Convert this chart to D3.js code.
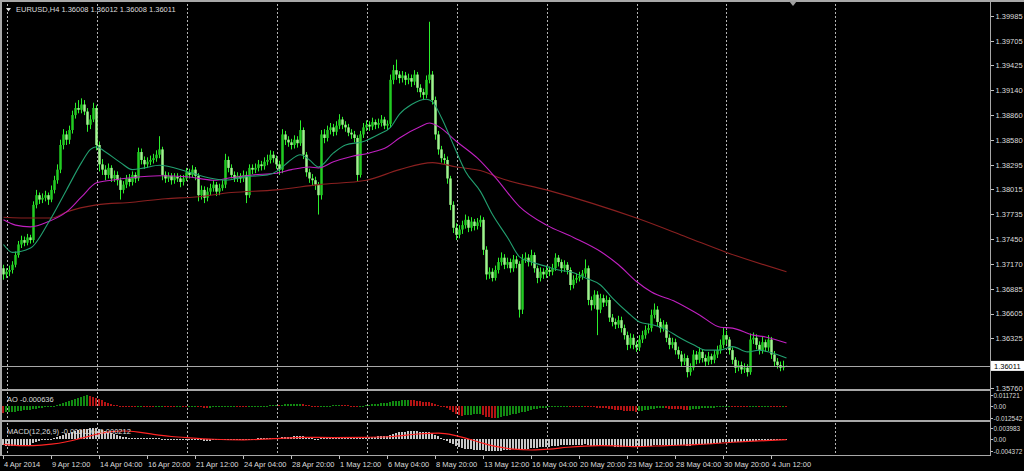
<!DOCTYPE html>
<html><head><meta charset="utf-8">
<script src="https://cdn.jsdelivr.net/npm/d3@7"></script>
<style>
html,body{margin:0;padding:0;background:#000;overflow:hidden}
svg{display:block}
text{font-family:"Liberation Sans",Arial,sans-serif;font-size:7.5px;fill:#dcdcdc}
</style></head><body>
<svg id="c" width="1024" height="471"></svg>
<script>
// ---------------- DATA (EURUSD, H4) ----------------
const symbolTitle = "EURUSD,H4  1.36008 1.36012 1.36008 1.36011";
const firstOpen = 1.3712;
const closes = [
1.3705,1.3708,1.3710,1.3716,1.3727,1.3739,1.3744,1.3741,1.3747,1.3744,
1.3784,1.3795,1.3790,1.3792,1.3795,1.3790,1.3801,1.3812,1.3824,1.3852,
1.3864,1.3858,1.3869,1.3886,1.3894,1.3892,1.3898,1.3890,1.3875,1.3881,
1.3894,1.3852,1.3830,1.3824,1.3818,1.3826,1.3814,1.3818,1.3812,1.3801,
1.3807,1.3814,1.3810,1.3818,1.3814,1.3844,1.3835,1.3830,1.3833,1.3835,
1.3837,1.3841,1.3847,1.3818,1.3814,1.3817,1.3812,1.3816,1.3814,1.3810,
1.3814,1.3821,1.3818,1.3824,1.3817,1.3795,1.3801,1.3792,1.3799,1.3803,
1.3807,1.3799,1.3803,1.3807,1.3835,1.3826,1.3818,1.3814,1.3817,1.3814,
1.3818,1.3795,1.3826,1.3824,1.3826,1.3830,1.3828,1.3833,1.3835,1.3841,
1.3837,1.3830,1.3824,1.3864,1.3858,1.3855,1.3852,1.3858,1.3854,1.3869,
1.3841,1.3821,1.3814,1.3812,1.3807,1.3795,1.3864,1.3860,1.3869,1.3872,
1.3867,1.3874,1.3881,1.3875,1.3872,1.3866,1.3864,1.3860,1.3818,1.3864,
1.3872,1.3875,1.3873,1.3878,1.3875,1.3877,1.3881,1.3874,1.3876,1.3926,
1.3937,1.3932,1.3928,1.3931,1.3926,1.3928,1.3924,1.3932,1.3917,1.3912,
1.3909,1.3926,1.3932,1.3903,1.3864,1.3847,1.3837,1.3835,1.3814,1.3784,
1.3758,1.3750,1.3756,1.3761,1.3767,1.3758,1.3765,1.3760,1.3764,1.3767,
1.3733,1.3705,1.3708,1.3701,1.3710,1.3719,1.3724,1.3716,1.3719,1.3712,
1.3722,1.3717,1.3665,1.3722,1.3724,1.3719,1.3727,1.3712,1.3701,1.3708,
1.3705,1.3710,1.3708,1.3712,1.3724,1.3719,1.3712,1.3716,1.3710,1.3693,
1.3699,1.3701,1.3703,1.3706,1.3712,1.3676,1.3670,1.3682,1.3665,1.3678,
1.3673,1.3676,1.3656,1.3651,1.3648,1.3653,1.3644,1.3636,1.3625,1.3633,
1.3625,1.3622,1.3631,1.3636,1.3642,1.3644,1.3659,1.3665,1.3651,1.3644,
1.3648,1.3633,1.3625,1.3628,1.3619,1.3614,1.3606,1.3610,1.3594,1.3599,
1.3614,1.3608,1.3617,1.3610,1.3606,1.3612,1.3608,1.3614,1.3619,1.3625,
1.3636,1.3631,1.3619,1.3608,1.3599,1.3602,1.3597,1.3599,1.3594,1.3631,
1.3633,1.3625,1.3619,1.3628,1.3622,1.3631,1.3614,1.3606,1.3602,1.3599,
1.36008,1.36011];
const highs = [
1.3716,1.3712,1.3715,1.3720,1.3731,1.3743,1.3749,1.3748,1.3751,1.3750,
1.3788,1.3801,1.3798,1.3797,1.3800,1.3798,1.3806,1.3817,1.3830,1.3858,
1.3870,1.3868,1.3874,1.3891,1.3900,1.3903,1.3905,1.3903,1.3894,1.3886,
1.3900,1.3897,1.3856,1.3836,1.3829,1.3831,1.3829,1.3823,1.3822,1.3815,
1.3811,1.3818,1.3819,1.3822,1.3821,1.3849,1.3848,1.3839,1.3838,1.3840,
1.3842,1.3846,1.3862,1.3850,1.3822,1.3821,1.3820,1.3820,1.3820,1.3818,
1.3818,1.3826,1.3825,1.3829,1.3827,1.3820,1.3806,1.3805,1.3804,1.3808,
1.3812,1.3810,1.3808,1.3812,1.3842,1.3839,1.3830,1.3822,1.3821,1.3820,
1.3823,1.3822,1.3830,1.3830,1.3831,1.3835,1.3834,1.3838,1.3841,1.3846,
1.3845,1.3840,1.3834,1.3870,1.3868,1.3862,1.3859,1.3863,1.3862,1.3880,
1.3872,1.3844,1.3825,1.3819,1.3816,1.3810,1.3869,1.3870,1.3874,1.3877,
1.3876,1.3879,1.3887,1.3884,1.3879,1.3876,1.3870,1.3868,1.3863,1.3868,
1.3877,1.3880,1.3879,1.3883,1.3881,1.3882,1.3886,1.3884,1.3880,1.3932,
1.3943,1.3949,1.3936,1.3936,1.3935,1.3933,1.3932,1.3937,1.3935,1.3921,
1.3916,1.3931,1.3992,1.3936,1.3907,1.3868,1.3851,1.3842,1.3839,1.3817,
1.3788,1.3763,1.3761,1.3766,1.3773,1.3771,1.3770,1.3768,1.3769,1.3772,
1.3770,1.3737,1.3713,1.3712,1.3715,1.3724,1.3730,1.3728,1.3724,1.3723,
1.3727,1.3726,1.3720,1.3728,1.3730,1.3728,1.3733,1.3730,1.3715,1.3713,
1.3712,1.3715,1.3714,1.3717,1.3729,1.3727,1.3722,1.3721,1.3719,1.3713,
1.3704,1.3706,1.3708,1.3710,1.3722,1.3715,1.3680,1.3687,1.3686,1.3683,
1.3682,1.3681,1.3679,1.3660,1.3655,1.3658,1.3657,1.3648,1.3640,1.3638,
1.3637,1.3629,1.3636,1.3641,1.3647,1.3649,1.3665,1.3672,1.3669,1.3655,
1.3653,1.3651,1.3637,1.3633,1.3632,1.3623,1.3618,1.3615,1.3613,1.3604,
1.3619,1.3618,1.3622,1.3620,1.3614,1.3617,1.3615,1.3619,1.3624,1.3631,
1.3645,1.3641,1.3634,1.3622,1.3611,1.3607,1.3606,1.3604,1.3603,1.3638,
1.3639,1.3637,1.3629,1.3634,1.3631,1.3636,1.3634,1.3618,1.3610,1.3606,
1.3607,1.36012];
const lows = [
1.3699,1.3701,1.3703,1.3706,1.3713,1.3724,1.3735,1.3737,1.3738,1.3740,
1.3741,1.3780,1.3785,1.3786,1.3788,1.3784,1.3787,1.3797,1.3808,1.3820,
1.3847,1.3852,1.3853,1.3865,1.3882,1.3888,1.3888,1.3886,1.3867,1.3870,
1.3878,1.3846,1.3822,1.3818,1.3812,1.3814,1.3810,1.3810,1.3806,1.3790,
1.3797,1.3803,1.3805,1.3806,1.3809,1.3811,1.3830,1.3825,1.3826,1.3829,
1.3831,1.3833,1.3837,1.3812,1.3809,1.3810,1.3807,1.3808,1.3810,1.3804,
1.3806,1.3811,1.3814,1.3815,1.3812,1.3788,1.3790,1.3786,1.3788,1.3795,
1.3799,1.3794,1.3795,1.3800,1.3803,1.3821,1.3814,1.3810,1.3810,1.3809,
1.3810,1.3786,1.3792,1.3819,1.3820,1.3822,1.3823,1.3824,1.3829,1.3831,
1.3832,1.3825,1.3818,1.3820,1.3852,1.3850,1.3847,1.3848,1.3849,1.3851,
1.3836,1.3816,1.3809,1.3806,1.3801,1.3773,1.3790,1.3854,1.3856,1.3864,
1.3862,1.3863,1.3870,1.3870,1.3867,1.3862,1.3859,1.3855,1.3810,1.3815,
1.3860,1.3868,1.3868,1.3869,1.3870,1.3871,1.3873,1.3870,1.3869,1.3872,
1.3921,1.3926,1.3922,1.3923,1.3920,1.3921,1.3918,1.3920,1.3912,1.3906,
1.3903,1.3905,1.3922,1.3898,1.3858,1.3841,1.3832,1.3830,1.3808,1.3778,
1.3752,1.3744,1.3746,1.3751,1.3757,1.3753,1.3754,1.3755,1.3756,1.3759,
1.3727,1.3699,1.3700,1.3697,1.3698,1.3706,1.3715,1.3711,1.3712,1.3707,
1.3708,1.3712,1.3656,1.3660,1.3718,1.3714,1.3715,1.3707,1.3695,1.3697,
1.3700,1.3701,1.3703,1.3704,1.3709,1.3714,1.3707,1.3708,1.3705,1.3687,
1.3689,1.3695,1.3697,1.3699,1.3702,1.3670,1.3664,1.3666,1.3636,1.3661,
1.3668,1.3669,1.3651,1.3646,1.3643,1.3644,1.3639,1.3631,1.3619,1.3621,
1.3620,1.3617,1.3618,1.3627,1.3632,1.3638,1.3640,1.3655,1.3646,1.3639,
1.3640,1.3628,1.3620,1.3621,1.3614,1.3609,1.3600,1.3602,1.3588,1.3590,
1.3596,1.3603,1.3604,1.3605,1.3601,1.3602,1.3603,1.3604,1.3610,1.3615,
1.3621,1.3626,1.3614,1.3603,1.3593,1.3595,1.3592,1.3593,1.3589,1.3591,
1.3626,1.3620,1.3614,1.3615,1.3617,1.3618,1.3609,1.3601,1.3598,1.3595,
1.3596,1.36008];
const bidPrice = 1.36011;

// moving averages: [bar index, price]
const maFast = [[0,1.3739],[3,1.3730],[9,1.3735],[15,1.3764],[21,1.3801],[26,1.3832],[29,1.3847],[31,1.3850],[34,1.3844],[39,1.3832],[43,1.3824],[47,1.3826],[52,1.3829],[61,1.3822],[68,1.3815],[74,1.3812],[81,1.3816],[88,1.3818],[92,1.3824],[95,1.3833],[99,1.3841],[102,1.3835],[105,1.3827],[110,1.3843],[114,1.3852],[120,1.3856],[125,1.3864],[129,1.3872],[132,1.3887],[136,1.3898],[141,1.3904],[143,1.3901],[146,1.3883],[150,1.3852],[154,1.3822],[159,1.3799],[163,1.3773],[168,1.3747],[172,1.3725],[176,1.3719],[181,1.3714],[185,1.3710],[190,1.3707],[194,1.3701],[199,1.3693],[203,1.3678],[208,1.3662],[212,1.3651],[216,1.3648],[221,1.3642],[225,1.3634],[230,1.3625],[234,1.3619],[239,1.3619],[243,1.3623],[248,1.3617],[252,1.3619],[256,1.3616],[261,1.3610]];
const maMid = [[0,1.3767],[4,1.3761],[9,1.3759],[15,1.3765],[21,1.3776],[26,1.3793],[31,1.3809],[36,1.3812],[43,1.3815],[52,1.3817],[61,1.3816],[70,1.3812],[76,1.3815],[83,1.3818],[91,1.3820],[96,1.3824],[102,1.3827],[105,1.3826],[110,1.3833],[116,1.3839],[122,1.3843],[128,1.3850],[132,1.3860],[139,1.3873],[142,1.3877],[145,1.3873],[151,1.3856],[158,1.3837],[164,1.3815],[172,1.3782],[181,1.3761],[190,1.3747],[199,1.3731],[205,1.3716],[211,1.3697],[216,1.3685],[224,1.3674],[232,1.3659],[239,1.3645],[243,1.3644],[250,1.3636],[254,1.3634],[261,1.3627]];
const maSlow = [[0,1.3770],[10,1.3769],[16,1.3769],[21,1.3776],[31,1.3784],[43,1.3787],[54,1.3791],[64,1.3793],[76,1.3798],[91,1.3801],[105,1.3807],[121,1.3812],[132,1.3824],[143,1.3832],[151,1.3827],[160,1.3822],[165,1.3815],[181,1.3801],[196,1.3786],[211,1.3769],[228,1.3747],[241,1.3730],[261,1.3708]];

// Awesome Oscillator, in units of 0.0001
const aoPips = [
-70,-66,-64,-62,-58,-54,-50,-46,-42,-38,
-32,-26,-22,-18,-13,-8,-2,6,14,24,
34,44,54,64,74,84,94,104,117,108,
100,90,78,64,48,32,20,12,8,4,
0,-3,-5,-6,-6,-4,-3,-4,-5,-8,
-10,-9,-7,-6,-8,-10,-12,-12,-11,-10,
-12,-14,-13,-11,-10,-12,-14,-15,-16,-15,
-13,-12,-11,-10,-7,-5,-4,-3,-3,-4,
-5,-7,-6,-4,-2,0,2,4,6,9,
12,13,12,14,17,19,21,22,23,24,
20,14,8,3,-2,-6,-4,-1,2,5,
7,9,10,9,8,7,6,5,3,4,
6,9,13,17,21,25,29,33,37,44,
50,55,59,62,64,65,63,60,56,52,
48,44,40,33,24,14,4,-8,-22,-40,
-60,-78,-92,-100,-96,-92,-90,-88,-86,-85,
-95,-110,-118,-124,-125,-121,-115,-108,-101,-94,
-86,-78,-74,-66,-58,-50,-42,-35,-30,-25,
-20,-15,-11,-8,-5,-3,-2,-1,0,-2,
-3,-4,-4,-3,-3,-6,-10,-13,-17,-20,
-22,-25,-29,-33,-37,-40,-44,-48,-52,-54,
-56,-58,-55,-50,-45,-40,-34,-28,-25,-24,
-23,-25,-28,-30,-32,-33,-35,-36,-38,-36,
-32,-29,-26,-24,-22,-20,-18,-15,-12,-9,
-5,-3,-2,-4,-6,-8,-10,-11,-12,-10,
-8,-7,-7,-6,-5,-4,-5,-6,-7,-7,
-6,-6.36];
// MACD(12,26,9) main, in units of 0.0001
const macdPips = [
-22,-24,-26,-27,-27,-26,-25,-24,-22,-21,
-16,-11,-8,-5,-3,-1,1,3,6,10,
14,17,20,24,28,31,34,36,38,39,
40,39,35,32,28,25,21,18,14,10,
8,6,4,3,2,3,3,2,2,2,
2,2,3,1,0,-1,-2,-2,-3,-3,
-3,-3,-2,-2,-2,-4,-5,-6,-6,-6,
-5,-5,-4,-4,-1,0,0,0,0,0,
0,-2,-1,0,1,2,2,3,4,5,
5,5,4,6,7,8,8,9,9,10,
9,7,5,3,1,-1,2,3,4,5,
6,7,8,8,8,8,7,7,4,5,
6,7,7,8,8,9,9,9,9,14,
18,21,24,26,27,28,28,29,28,27,
25,25,25,22,16,10,4,-1,-6,-13,
-20,-26,-30,-33,-35,-37,-38,-39,-40,-40,
-41,-42,-43,-43.7,-43.5,-43,-42,-41,-40,-39,
-38,-37,-39,-37,-36,-35,-34,-33,-32,-31,
-30,-29,-28,-27,-25,-24,-23,-22,-22,-23,
-23,-23,-22,-21,-20,-22,-24,-24,-25,-25,
-25,-25,-26,-27,-28,-28,-29,-30,-31,-31,
-31,-31,-30,-29,-27,-26,-24,-22,-21,-21,
-21,-21,-22,-22,-22,-23,-23,-23,-24,-24,
-22,-21,-20,-19,-19,-18,-17,-16,-15,-13,
-11,-10,-10,-10,-11,-11,-11,-11,-12,-9,
-7,-6,-5,-4,-4,-3,-3,-3,-2,-2,
-1,-1.06];
// MACD signal line: [bar index, value in 0.0001]
const signalPips = [[0,-20],[5,-24],[10,-24],[16,-19],[21,-10],[26,3],[31,17],[36,27],[40,29],[45,25],[50,17],[56,9],[62,4],[70,-1],[80,-3],[90,1],[100,6],[110,5],[120,6],[130,9],[138,18],[145,21],[150,14],[155,0],[160,-16],[165,-29],[170,-37],[176,-40],[182,-37],[188,-30],[199,-24],[205,-25],[210,-28],[221,-24],[232,-20],[243,-12],[254,-6],[261,-2.12]];

const priceTicks = [1.39985,1.39705,1.39425,1.39140,1.38860,1.38580,1.38295,1.38015,1.37735,1.37450,1.37170,1.36885,1.36605,1.36325,1.35760];
const aoTicks = [0.011721, 0, -0.012542];
const aoTickLabels = ["0.011721","0.00","-0.012542"];
const macdTicks = [0.003983, 0, -0.004372];
const macdTickLabels = ["0.003983","0.00","-0.004372"];
const timeTickIdx = [0,16,32,48,64,80,96,112,128,144,160,176,192,208,224,240,256];
const timeTickLabels = ["4 Apr 2014","9 Apr 12:00","14 Apr 04:00","16 Apr 20:00","21 Apr 12:00","24 Apr 04:00","28 Apr 20:00","1 May 12:00","6 May 04:00","8 May 20:00","13 May 12:00","16 May 04:00","20 May 20:00","23 May 12:00","28 May 04:00","30 May 20:00","4 Jun 12:00"];
const gridIdx = [1,31,61,91,121,151,181,211,241,277];
const aoLabel = "AO -0.000636";
const macdLabel = "MACD(12,26,9) -0.000106 -0.000212";

// ---------------- DRAW ----------------
const svg = d3.select("#c");
const R = 990; // right edge of plotting area
const main = {top:3, bottom:389};
const aoWin = {top:391, bottom:420};
const macdWin = {top:422, bottom:455};

const x = d3.scaleLinear().domain([-1, 329]).range([0.5, 990.5]);
const yMain = d3.scaleLinear().domain([1.35737, 1.40133]).range([390, 3]);
const yAO = d3.scaleLinear().domain([-0.012542, 0.011721]).range([418, 395]);
const yMACD = d3.scaleLinear().domain([-0.004372, 0.003983]).range([451, 428]);

svg.append("rect").attr("width",1024).attr("height",471).attr("fill","#000");

const defs = svg.append("defs");
defs.append("clipPath").attr("id","clipMain").append("rect").attr("x",2).attr("y",main.top).attr("width",R-2).attr("height",main.bottom-main.top);

// grid (vertical dashed)
const grid = svg.append("g").attr("stroke","#b4b4b4").attr("stroke-dasharray","2,2").attr("shape-rendering","crispEdges");
[main, aoWin, macdWin].forEach(w=>{
  grid.selectAll(null).data(gridIdx).join("line")
    .attr("x1",d=>Math.round(x(d))+0.5).attr("x2",d=>Math.round(x(d))+0.5)
    .attr("y1",w.top+1).attr("y2",w.bottom);
});

// candles
const bars = closes.map((c,i)=>({i, o: i===0?firstOpen:closes[i-1], c, h: highs[i], l: lows[i]}));
const gc = svg.append("g").attr("clip-path","url(#clipMain)");
gc.selectAll("line.w").data(bars).join("line").attr("class","w")
  .attr("x1",d=>x(d.i)).attr("x2",d=>x(d.i))
  .attr("y1",d=>yMain(d.h)).attr("y2",d=>yMain(d.l))
  .attr("stroke","#2cf02c").attr("stroke-width",1);
gc.selectAll("rect.b").data(bars).join("rect").attr("class","b")
  .attr("x",d=>x(d.i)-1.25).attr("width",2.5)
  .attr("y",d=>yMain(Math.max(d.o,d.c)))
  .attr("height",d=>Math.max(1, yMain(Math.min(d.o,d.c))-yMain(Math.max(d.o,d.c))))
  .attr("fill",d=>d.c>=d.o?"#22cc22":"#9ef58e");

// moving averages
const maLine = d3.line().x(d=>x(d[0])).y(d=>yMain(d[1])).curve(d3.curveMonotoneX);
const gm = svg.append("g").attr("clip-path","url(#clipMain)").attr("fill","none").attr("stroke-width",1.1);
gm.append("path").datum(maSlow).attr("d",maLine).attr("stroke","#8a2020");
gm.append("path").datum(maMid).attr("d",maLine).attr("stroke","#c020c0");
gm.append("path").datum(maFast).attr("d",maLine).attr("stroke","#22a070");

// bid line
svg.append("line").attr("x1",2).attr("x2",R).attr("y1",Math.round(yMain(bidPrice))+0.5).attr("y2",Math.round(yMain(bidPrice))+0.5)
  .attr("stroke","#a8a8a8").attr("shape-rendering","crispEdges");

// AO histogram
const ao = aoPips.map(v=>v/10000);
svg.append("g").attr("shape-rendering","crispEdges").selectAll("rect").data(ao).join("rect")
  .attr("x",(d,i)=>x(i)-1.5).attr("width",2)
  .attr("y",d=>Math.min(yAO(d),yAO(0)))
  .attr("height",d=>Math.max(1,Math.abs(yAO(d)-yAO(0))))
  .attr("fill",(d,i)=> (i>0 && d>ao[i-1]) ? "#128a12" : "#b41414");

// MACD histogram + signal
const macd = macdPips.map(v=>v/10000);
svg.append("g").attr("shape-rendering","crispEdges").selectAll("rect").data(macd).join("rect")
  .attr("x",(d,i)=>x(i)-1.5).attr("width",2)
  .attr("y",d=>Math.min(yMACD(d),yMACD(0)))
  .attr("height",d=>Math.max(1,Math.abs(yMACD(d)-yMACD(0))))
  .attr("fill","#c8c8c8");
const sigLine = d3.line().x(d=>x(d[0])).y(d=>yMACD(d[1]/10000)).curve(d3.curveMonotoneX);
svg.append("path").datum(signalPips).attr("d",sigLine).attr("fill","none").attr("stroke","#ff2424").attr("stroke-width",1.2);

// frames / separators
const fr = svg.append("g").attr("stroke","#a8a8a8").attr("shape-rendering","crispEdges");
fr.append("line").attr("x1",0).attr("x2",1024).attr("y1",1).attr("y2",1).attr("stroke-width",2);
fr.append("line").attr("x1",1).attr("x2",1).attr("y1",0).attr("y2",456).attr("stroke-width",2);
fr.append("line").attr("x1",0).attr("x2",R).attr("y1",390).attr("y2",390).attr("stroke-width",2);
fr.append("line").attr("x1",0).attr("x2",R).attr("y1",421).attr("y2",421).attr("stroke-width",2);
fr.append("line").attr("x1",0).attr("x2",R+0.5).attr("y1",455.5).attr("y2",455.5);
fr.append("line").attr("x1",R+0.5).attr("x2",R+0.5).attr("y1",0).attr("y2",456);

// axes
function styleAxis(size){
  return g=>{
    g.select(".domain").remove();
    g.selectAll(".tick line").attr("stroke","#c0c0c0").attr("shape-rendering","crispEdges");
    g.selectAll(".tick text").attr("fill","#dcdcdc").style("font-size",size).style("font-family","'Liberation Sans',Arial,sans-serif");
  };
}
svg.append("g").attr("transform",`translate(${R+0.5},0)`)
  .call(d3.axisRight(yMain).tickValues(priceTicks).tickFormat(d3.format(".5f")).tickSize(3).tickPadding(2))
  .call(styleAxis("7.5px"));
svg.append("g").attr("transform",`translate(${R+0.5},0)`)
  .call(d3.axisRight(yAO).tickValues(aoTicks).tickFormat((d,i)=>aoTickLabels[i]).tickSize(2).tickPadding(1))
  .call(styleAxis("6.4px"));
svg.append("g").attr("transform",`translate(${R+0.5},0)`)
  .call(d3.axisRight(yMACD).tickValues(macdTicks).tickFormat((d,i)=>macdTickLabels[i]).tickSize(2).tickPadding(1))
  .call(styleAxis("6.4px"));

// bid label
const by = yMain(bidPrice);
svg.append("rect").attr("x",R+1).attr("y",by-5).attr("width",1024-R-1).attr("height",10).attr("fill","#ffffff");
svg.append("text").attr("x",R+4).attr("y",by+2.8).text(d3.format(".5f")(bidPrice)).style("fill","#000");

// time axis
svg.append("g").attr("transform",`translate(0,455.5)`)
  .call(d3.axisBottom(x).tickValues(timeTickIdx).tickFormat((d,i)=>timeTickLabels[i]).tickSize(3).tickPadding(3))
  .call(g=>{
    styleAxis("7.5px")(g);
    g.selectAll(".tick text").attr("text-anchor","start").attr("dx","0");
    g.selectAll(".tick line").attr("transform","translate(-0.5,0)");
  });

// labels
svg.append("path").attr("d","M6,8 L11,8 L8.5,11.5 Z").attr("fill","#e0e0e0");
svg.append("text").attr("x",16).attr("y",12).text(symbolTitle);
svg.append("text").attr("x",7).attr("y",402).text(aoLabel);
svg.append("text").attr("x",7).attr("y",434).text(macdLabel);
// chart shift marker
svg.append("path").attr("d","M789,1 L797,1 L793,6 Z").attr("fill","#a0a0a0");
</script>
</body></html>
